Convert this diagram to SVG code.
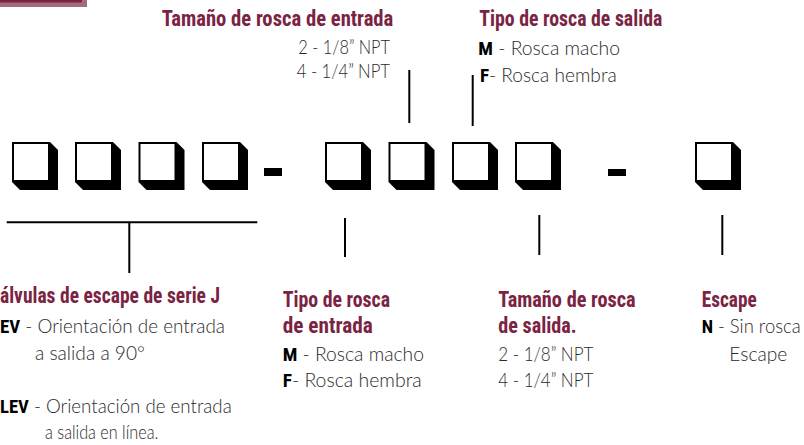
<svg xmlns="http://www.w3.org/2000/svg" xmlns:xlink="http://www.w3.org/1999/xlink" width="804" height="445" viewBox="0 0 804 445">
<style>
.t{font-family:"Liberation Sans Narrow","Roboto Condensed","DejaVu Sans Condensed","Liberation Sans",sans-serif;font-weight:bold;font-size:21.5px;fill:#7b2343}
.b{font-family:Lato,"Open Sans","Liberation Sans",sans-serif;font-weight:300;font-size:19px;fill:#2a2a2a}
.k{font-family:"Liberation Sans Narrow","Roboto Condensed","DejaVu Sans Condensed","Liberation Sans",sans-serif;font-weight:bold;fill:#000}
.ln{stroke:#000;stroke-width:2;fill:none}
</style>
<defs>
<g id="box">
<polygon points="0,0 38,0 46,8 46,48 8,48 0,40" fill="#000"/>
<rect x="2" y="2" width="34" height="36" fill="#fff"/>
</g>
</defs>
<rect x="0" y="0" width="87" height="7" fill="#a66a80"/>
<rect x="0" y="0" width="82" height="2.5" fill="#7b2343"/>
<g id="boxes">
<use xlink:href="#box" x="12" y="142"/>
<use xlink:href="#box" x="75" y="142"/>
<use xlink:href="#box" x="138.5" y="142"/>
<use xlink:href="#box" x="202" y="142"/>
<rect x="264" y="168" width="18" height="8" fill="#000"/>
<use xlink:href="#box" x="325" y="142"/>
<use xlink:href="#box" x="388.5" y="142"/>
<use xlink:href="#box" x="452" y="142"/>
<use xlink:href="#box" x="515" y="142"/>
<rect x="608" y="169" width="18" height="7" fill="#000"/>
<use xlink:href="#box" x="695" y="142"/>
</g>
<g id="connectors">
<line class="ln" x1="409.3" y1="70" x2="409.3" y2="123"/>
<line class="ln" x1="472.7" y1="75" x2="472.7" y2="126"/>
<line class="ln" x1="6.7" y1="222.3" x2="257.3" y2="222.3"/>
<line class="ln" x1="129.3" y1="222" x2="129.3" y2="273"/>
<line class="ln" x1="345" y1="218" x2="345" y2="257"/>
<line class="ln" x1="539.3" y1="215" x2="539.3" y2="255"/>
<line class="ln" x1="722.3" y1="215" x2="722.3" y2="255"/>
</g>
<g id="inlet-size">
<text class="t" x="161.7" y="26" textLength="231.6" lengthAdjust="spacingAndGlyphs">Tamaño de rosca de entrada</text>
<text class="b" x="298.3" y="53.5" textLength="91.7" lengthAdjust="spacingAndGlyphs">2 - 1/8” NPT</text>
<text class="b" x="296.7" y="77.5" textLength="93.3" lengthAdjust="spacingAndGlyphs">4 - 1/4” NPT</text>
</g>
<g id="outlet-type">
<text class="t" x="479.3" y="26" textLength="183" lengthAdjust="spacingAndGlyphs">Tipo de rosca de salida</text>
<text class="b" x="478.3" y="55" textLength="141.7" lengthAdjust="spacingAndGlyphs"><tspan class="k">M</tspan> - Rosca macho</text>
<text class="b" x="480" y="81.5" textLength="136.7" lengthAdjust="spacingAndGlyphs"><tspan class="k">F</tspan>- Rosca hembra</text>
</g>
<g id="series">
<text class="t" x="0" y="303" textLength="220" lengthAdjust="spacingAndGlyphs">álvulas de escape de serie J</text>
<text class="b" x="0" y="333" textLength="225" lengthAdjust="spacingAndGlyphs"><tspan class="k">EV</tspan> - Orientación de entrada</text>
<text class="b" x="35" y="360" textLength="110" lengthAdjust="spacingAndGlyphs">a salida a 90°</text>
<text class="b" x="0" y="413" textLength="231.7" lengthAdjust="spacingAndGlyphs"><tspan class="k">LEV</tspan> - Orientación de entrada</text>
<text class="b" x="45" y="439" textLength="113.3" lengthAdjust="spacingAndGlyphs">a salida en línea.</text>
</g>
<g id="inlet-type">
<text class="t" x="282.7" y="306.7" textLength="107.3" lengthAdjust="spacingAndGlyphs">Tipo de rosca</text>
<text class="t" x="282.7" y="333.3" textLength="90" lengthAdjust="spacingAndGlyphs">de entrada</text>
<text class="b" x="282.7" y="360.7" textLength="141.3" lengthAdjust="spacingAndGlyphs"><tspan class="k">M</tspan> - Rosca macho</text>
<text class="b" x="282.7" y="387.3" textLength="139" lengthAdjust="spacingAndGlyphs"><tspan class="k">F</tspan>- Rosca hembra</text>
</g>
<g id="outlet-size">
<text class="t" x="498.3" y="306.7" textLength="137.4" lengthAdjust="spacingAndGlyphs">Tamaño de rosca</text>
<text class="t" x="498.3" y="333.3" textLength="78.4" lengthAdjust="spacingAndGlyphs">de salida.</text>
<text class="b" x="498.3" y="360.7" textLength="95" lengthAdjust="spacingAndGlyphs">2 - 1/8” NPT</text>
<text class="b" x="498.3" y="387.3" textLength="95" lengthAdjust="spacingAndGlyphs">4 - 1/4” NPT</text>
</g>
<g id="exhaust">
<text class="t" x="701.7" y="306.7" textLength="55" lengthAdjust="spacingAndGlyphs">Escape</text>
<text class="b" x="701.7" y="333.3" textLength="99" lengthAdjust="spacingAndGlyphs"><tspan class="k">N</tspan> - Sin rosca</text>
<text class="b" x="729.3" y="360.7" textLength="58" lengthAdjust="spacingAndGlyphs">Escape</text>
</g>
</svg>
